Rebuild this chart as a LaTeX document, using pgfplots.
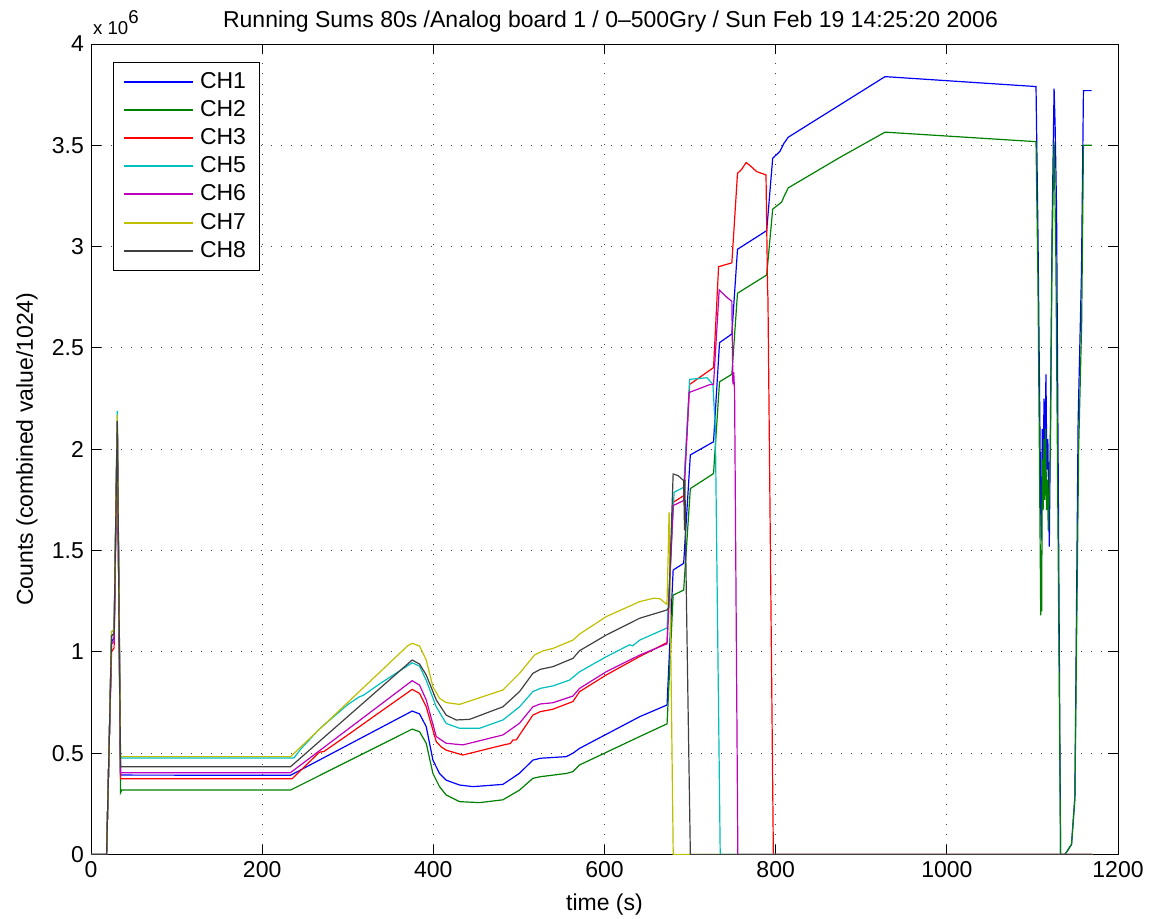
\documentclass[border=0pt]{standalone}
\usepackage{pgfplots}
\pgfplotsset{compat=1.18}
\usepackage{fontspec}
\setmainfont{Liberation Sans}
\definecolor{mlblue}{rgb}{0,0,1}
\definecolor{mlgreen}{rgb}{0,0.5,0}
\definecolor{mlred}{rgb}{1,0,0}
\definecolor{mlcyan}{rgb}{0,0.75,0.75}
\definecolor{mlmagenta}{rgb}{0.75,0,0.75}
\definecolor{mlyellow}{rgb}{0.75,0.75,0}
\definecolor{mlgray}{rgb}{0.25,0.25,0.25}
\newcommand{\fs}{\fontsize{11.5}{13.5}\selectfont}
\begin{document}
\begin{tikzpicture}
\begin{axis}[
  at={(0,0)}, anchor=south west,
  scale only axis, width=513.5pt, height=405.25pt,
  xmin=0, xmax=1200, ymin=0, ymax=4,
  xtick={0,200,400,600,800,1000,1200},
  xticklabels={0,200,400,600,800,1000,1200},
  ytick={0,0.5,1,1.5,2,2.5,3,3.5,4},
  yticklabels={0,0.5,1,1.5,2,2.5,3,3.5,4},
  /pgf/number format/assume math mode=true,
  tick label style={font=\fs},
  tick align=inside, xtick pos=both, ytick pos=both,
  major tick length=5pt,
  tick style={black, line width=0.5pt},
  axis line style={black, line width=0.5pt},
  grid=major,
  major grid style={black!75, line width=0.5pt, dash pattern=on 0.5pt off 4.5pt},
  xlabel={time (s)},
  xlabel style={font=\fs, at={(axis description cs:0.5,0)}, anchor=center, yshift=-25pt},
  ylabel={Counts (combined value/1024)},
  ylabel style={font=\fs, at={(axis description cs:-0.0623,0.5)}, anchor=center},
  legend style={at={(0,1)}, anchor=north west, xshift=10.8pt, yshift=-8.8pt,
    font=\fs, inner xsep=5pt, inner ysep=3pt,
    row sep=0.6pt, nodes={inner sep=1.5pt, text height=8.5pt, text depth=2pt},
    cells={anchor=west}},
  legend image code/.code={\draw[#1] (0pt,0pt) -- (34.5pt,0pt); \path (36pt,0pt);},
  every axis plot/.append style={line width=0.6pt},
  clip mode=individual,
]
\addlegendimage{mlblue, line width=1pt}
\addlegendentry{CH1}
\addlegendimage{mlgreen, line width=1pt}
\addlegendentry{CH2}
\addlegendimage{mlred, line width=1pt}
\addlegendentry{CH3}
\addlegendimage{mlcyan, line width=1pt}
\addlegendentry{CH5}
\addlegendimage{mlmagenta, line width=1pt}
\addlegendentry{CH6}
\addlegendimage{mlyellow, line width=1pt}
\addlegendentry{CH7}
\addlegendimage{mlgray, line width=1pt}
\addlegendentry{CH8}
\addplot[color=mlblue, forget plot] coordinates {(0,0)(18.2,0)(21,0.5)(24,1.05)(27,1.07)(30.7,2.12)(34.5,0.392)(233.1,0.391)(375.3,0.708)(383.9,0.694)(391.7,0.631)(399.5,0.466)(407.2,0.40)(415,0.367)(430.6,0.343)(446.2,0.335)(481.3,0.346)(500.7,0.401)(516.3,0.466)(525,0.475)(555.3,0.483)(563.1,0.50)(570.9,0.524)(641,0.68)(673.1,0.738)(680.2,1.404)(692.5,1.437)(700.3,1.972)(727.4,2.037)(734.4,2.526)(748.8,2.569)(755.4,2.987)(789.5,3.079)(796.5,3.436)(805,3.47)(809.7,3.51)(814.7,3.54)(927.8,3.839)(1104.2,3.79)(1106.5,3.05)(1109.7,1.7)(1110.5,1.55)(1111.5,2.1)(1112.5,1.75)(1113.5,2.25)(1114.5,1.95)(1115.8,2.37)(1116.8,1.9)(1118,2.05)(1119.7,1.52)(1121,2.1)(1123,3.1)(1125.3,3.78)(1126.5,3.6)(1128.2,3.18)(1132.9,0)(1138,0)(1145.7,0.05)(1149.6,0.28)(1153.4,2.14)(1157.3,2.87)(1159.6,3.77)(1169.2,3.77)};
\addplot[color=mlgreen, forget plot] coordinates {(0,0)(18.2,0)(21,0.5)(24,1.08)(27,1.09)(30.7,2.13)(34.5,0.305)(36,0.318)(233.1,0.318)(375.3,0.619)(383.9,0.606)(391.7,0.549)(399.5,0.40)(407.2,0.335)(415,0.294)(430.6,0.261)(454,0.256)(481.3,0.27)(500.7,0.318)(516.3,0.376)(525,0.384)(555.3,0.40)(563.1,0.409)(570.9,0.442)(641,0.582)(673.1,0.645)(680.2,1.28)(692.5,1.305)(700.3,1.806)(727.4,1.88)(734.4,2.333)(748.8,2.37)(755.4,2.77)(789.5,2.86)(796.5,3.185)(807,3.22)(810,3.25)(814.7,3.29)(874.9,3.44)(927.8,3.565)(1104.2,3.518)(1106.5,2.82)(1109.7,1.18)(1110.3,1.5)(1110.8,1.2)(1111.5,1.95)(1112.5,1.7)(1113.5,2.05)(1114.5,1.75)(1115.5,2.1)(1116.5,1.7)(1117.5,1.85)(1118.5,1.6)(1119.7,1.8)(1121,2.0)(1123,3.0)(1125.3,3.52)(1126.5,3.2)(1127.4,2.94)(1132.9,0)(1138,0)(1145.7,0.05)(1149.6,0.28)(1154,2.0)(1157.5,2.62)(1159.6,3.5)(1169.2,3.5)};
\addplot[color=mlred, forget plot] coordinates {(0,0)(18.2,0)(21,0.5)(24,1.0)(27,1.02)(30.7,2.10)(34.5,0.374)(235,0.374)(262,0.485)(267,0.505)(272,0.508)(300,0.59)(340,0.71)(375.3,0.815)(383.9,0.795)(391.7,0.729)(403.4,0.557)(409,0.532)(415,0.515)(434.5,0.491)(481.3,0.54)(490,0.548)(493,0.565)(497,0.566)(500.7,0.59)(516.3,0.688)(525,0.705)(539.7,0.717)(563.1,0.755)(570.9,0.804)(602,0.886)(641,0.977)(673.1,1.046)(680.2,1.738)(692.5,1.771)(699.5,2.32)(727.4,2.403)(733.3,2.901)(748.8,2.92)(755.4,3.362)(760,3.38)(765.5,3.415)(770,3.40)(777.9,3.37)(788.7,3.354)(790.5,2.8)(791,2.74)(797.3,0)(1170,0)};
\addplot[color=mlcyan, forget plot] coordinates {(0,0)(18.2,0)(21,0.5)(24,1.1)(27,1.11)(30.7,2.19)(34.5,0.476)(237,0.476)(245,0.52)(267,0.62)(300,0.74)(313.8,0.779)(318,0.785)(340,0.85)(375.3,0.946)(383.9,0.93)(391.7,0.86)(403.4,0.729)(415,0.647)(430.6,0.623)(454,0.623)(481.3,0.664)(500.7,0.729)(516.3,0.804)(525,0.82)(539.7,0.832)(559.2,0.861)(570.9,0.902)(602,0.976)(629.3,1.035)(633,1.03)(641,1.058)(673.1,1.118)(681.3,1.788)(692.5,1.812)(699.5,2.345)(719.7,2.353)(726.7,2.32)(729.5,2.1)(735.2,0)(1170,0)};
\addplot[color=mlmagenta, forget plot] coordinates {(0,0)(18.2,0)(21,0.5)(24,1.04)(27,1.05)(30.7,2.14)(34.5,0.404)(233.1,0.404)(375.3,0.858)(383.9,0.836)(391.7,0.763)(403.4,0.582)(415,0.549)(434.5,0.541)(481.3,0.59)(500.7,0.648)(516.3,0.729)(525,0.743)(539.7,0.749)(563.1,0.782)(570.9,0.82)(602,0.902)(641,0.984)(673.1,1.04)(680.2,1.722)(692.5,1.747)(698.8,2.28)(723.6,2.32)(727.4,2.32)(734,2.786)(743,2.75)(748.8,2.73)(750,2.32)(751,2.38)(752,2.28)(755.8,0)(1170,0)};
\addplot[color=mlyellow, forget plot] coordinates {(0,0)(18.2,0)(21,0.5)(24,1.1)(27,1.11)(30.7,2.17)(34.5,0.483)(233.1,0.483)(370,1.03)(375.3,1.042)(383.9,1.029)(391.7,0.96)(399.5,0.828)(407.2,0.771)(415,0.75)(426.7,0.743)(430.6,0.741)(481.3,0.812)(500.7,0.894)(518.3,0.985)(528,1.005)(539.7,1.017)(563.1,1.058)(570.9,1.088)(602,1.174)(641,1.248)(657.6,1.265)(665,1.262)(671.2,1.24)(673,1.235)(675.5,1.69)(680.3,0)(1170,0)};
\addplot[color=mlgray, forget plot] coordinates {(0,0)(18.2,0)(21,0.5)(24,1.08)(27,1.09)(30.7,2.14)(34.5,0.433)(233.1,0.433)(375.3,0.96)(383.9,0.94)(391.7,0.886)(403.4,0.763)(415,0.688)(426.7,0.664)(442.3,0.667)(481.3,0.729)(500.7,0.804)(516.3,0.894)(525,0.914)(539.7,0.927)(563.1,0.968)(570.9,1.006)(602,1.083)(641,1.166)(673.1,1.207)(675,1.22)(680.2,1.878)(686,1.87)(692.5,1.845)(693.5,1.6)(694,1.85)(694.6,1.574)(696.5,1.04)(700.3,0)(1170,0)};
\node[font=\fs, anchor=base, inner sep=0pt] at (rel axis cs:0.5,1) [yshift=8.3pt, xshift=3pt] {Running Sums 80s /Analog board 1 / 0--500Gry / Sun Feb 19 14:25:20 2006};
\node[anchor=base west, inner sep=0pt] at (rel axis cs:0,1) [yshift=5pt, xshift=0.9pt] {\fontsize{9.3}{11}\selectfont x 10\raisebox{5pt}{6}};
\end{axis}
\pgfresetboundingbox
\path[use as bounding box] (-45.5pt,-31.75pt) rectangle (537pt,427.25pt);
\end{tikzpicture}
\end{document}
